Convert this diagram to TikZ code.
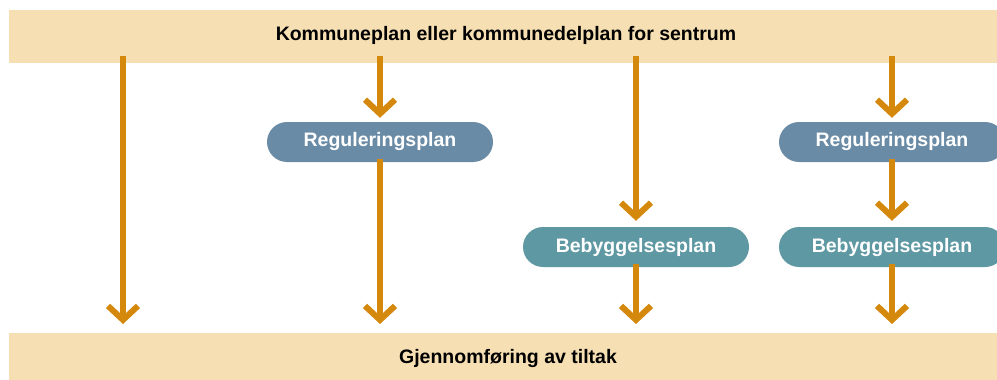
\documentclass[tikz,border=0pt]{standalone}
\usepackage{fontspec}
\setmainfont{Liberation Sans}
\usetikzlibrary{arrows.meta}
\definecolor{band}{HTML}{F6DFB2}
\definecolor{arr}{HTML}{D4880C}
\definecolor{reg}{HTML}{6A8BA5}
\definecolor{beb}{HTML}{5E98A3}
\tikzset{
  bandbox/.style={fill=band, draw=none, minimum height=#1, inner sep=0pt},
  bandtext/.style={text=black, inner sep=0pt, font=\fontsize{19.5}{22}\selectfont\bfseries},
  planbox/.style={fill=#1, draw=none, rounded corners=20pt, minimum width=226pt, minimum height=40pt, inner sep=0pt, text=white, font=\fontsize{19.5}{22}\selectfont\bfseries},
  flow/.style={draw=arr, line width=6pt, -{Straight Barb[length=14pt,width=30pt,line width=6pt]}},
}
\begin{document}
\begin{tikzpicture}[x=1pt,y=-1pt]
\useasboundingbox (0,0) rectangle (997,380);
\clip (0,0) rectangle (997,380);
\fill[white] (0,0) rectangle (997,380);
% bands
\node[bandbox=53pt, minimum width=988pt, anchor=north west] (top) at (9,10) {};
\node[bandtext, anchor=base] (toptxt) at (506,41) {Kommuneplan eller kommunedelplan for sentrum};
\node[bandbox=47pt, minimum width=988pt, anchor=north west] (bot) at (9,333) {};
\node[bandtext, anchor=base] (bottxt) at (508,363) {Gjennomføring av tiltak};
% columns
\coordinate (c1) at (123,0);
\coordinate (c2) at (380,0);
\coordinate (c3) at (636,0);
\coordinate (c4) at (892,0);
% plan nodes
\node[planbox=reg] (reg2) at (380,142) {Reguleringsplan};
\node[planbox=reg] (reg4) at (892,142) {Reguleringsplan};
\node[planbox=beb] (beb3) at (636,247) {Bebyggelsesplan};
\node[planbox=beb] (beb4) at (892,247) {Bebyggelsesplan};
% connectors
\draw[flow, shorten <=-7pt, shorten >=9pt] (top.south -| c1) -- (bot.north -| c1);
\draw[flow, shorten <=-7pt, shorten >=4pt] (top.south -| c2) -- (reg2.north);
\draw[flow, shorten <=-3pt, shorten >=9pt] (reg2.south) -- (bot.north -| c2);
\draw[flow, shorten <=-7pt, shorten >=6pt] (top.south -| c3) -- (beb3.north);
\draw[flow, shorten <=-3pt, shorten >=9pt] (beb3.south) -- (bot.north -| c3);
\draw[flow, shorten <=-7pt, shorten >=4pt] (top.south -| c4) -- (reg4.north);
\draw[flow, shorten <=-3pt, shorten >=6pt] (reg4.south) -- (beb4.north);
\draw[flow, shorten <=-3pt, shorten >=9pt] (beb4.south) -- (bot.north -| c4);
\end{tikzpicture}
\end{document}
